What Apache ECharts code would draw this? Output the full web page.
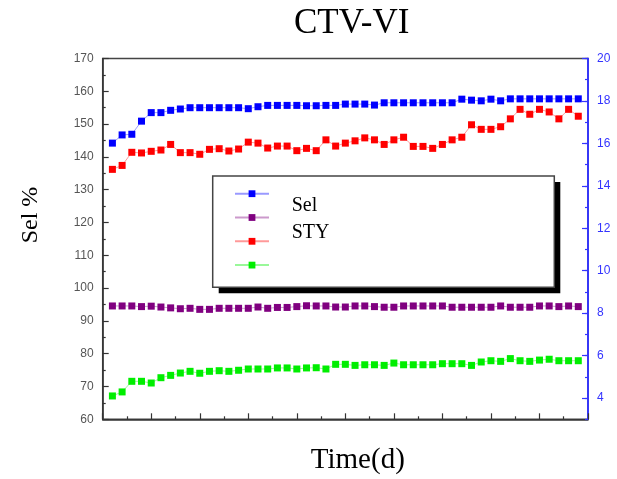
<!DOCTYPE html>
<html>
<head>
<meta charset="utf-8">
<script src="https://cdn.jsdelivr.net/npm/echarts@6/dist/echarts.min.js"></script>
<style>
  html, body { margin: 0; padding: 0; background: #fff; }
  #chart { width: 617px; height: 479px; }
</style>
</head>
<body>
<div id="chart"></div>
<script>
// ---- data ----
const timeDays = [0.2,0.4,0.6,0.8,1.0,1.2,1.4,1.6,1.8,2.0,2.2,2.4,2.6,2.8,3.0,3.2,3.4,3.6,3.8,4.0,
  4.2,4.4,4.6,4.8,5.0,5.2,5.4,5.6,5.8,6.0,6.2,6.4,6.6,6.8,7.0,7.2,7.4,7.6,7.8,8.0,
  8.2,8.4,8.6,8.8,9.0,9.2,9.4,9.6,9.8];
const blueSeries = [144.2,146.7,146.9,150.9,153.5,153.5,154.2,154.6,155.0,155.0,
  155.0,155.0,155.0,155.0,154.7,155.3,155.7,155.7,155.7,155.7,
  155.6,155.6,155.7,155.7,156.1,156.1,156.1,155.8,156.5,156.5,
  156.5,156.5,156.5,156.5,156.5,156.5,157.6,157.3,157.1,157.6,
  157.1,157.7,157.7,157.7,157.7,157.7,157.7,157.7,157.7];
const redSeries = [136.2,137.4,141.4,141.2,141.7,142.1,143.8,141.3,141.3,140.8,
  142.3,142.5,141.8,142.4,144.5,144.2,142.7,143.3,143.3,141.9,
  142.6,141.9,145.2,143.3,144.2,144.9,145.8,145.2,143.8,145.2,
  146.0,143.2,143.2,142.6,143.8,145.2,146.0,149.8,148.4,148.4,
  149.2,151.6,154.5,153.0,154.5,153.7,151.6,154.5,152.4];
const purpleSeries = [8.34,8.34,8.34,8.31,8.33,8.29,8.25,8.21,8.23,8.18,
  8.18,8.23,8.23,8.23,8.23,8.29,8.23,8.27,8.27,8.31,
  8.35,8.34,8.34,8.29,8.29,8.34,8.34,8.31,8.28,8.28,
  8.34,8.34,8.34,8.34,8.34,8.28,8.28,8.28,8.28,8.28,
  8.34,8.28,8.28,8.28,8.34,8.34,8.31,8.34,8.31];
const greenSeries = [4.10,4.29,4.79,4.79,4.71,4.96,5.07,5.18,5.26,5.17,
  5.26,5.29,5.26,5.31,5.37,5.37,5.37,5.42,5.42,5.37,
  5.42,5.43,5.37,5.59,5.59,5.54,5.57,5.57,5.54,5.65,
  5.57,5.57,5.57,5.57,5.62,5.62,5.62,5.54,5.70,5.76,
  5.73,5.86,5.76,5.73,5.79,5.83,5.76,5.76,5.76];
const rightMajorTicks = [4,6,8,10,12,14,16,18,20];
const legendLabels = ['Sel', 'STY'];
const titleText = 'CTV-VI';
const yName = 'Sel %';
const xName = 'Time(d)';

// ---- chart ----
const chart = echarts.init(document.getElementById('chart'), null, { renderer: 'canvas' });
const serif = 'Liberation Serif, Times New Roman, serif';
const sans = 'Liberation Sans, Arial, sans-serif';
const BLUE_AXIS = '#3434ff';

function pairs(ys) { return ys.map((v, i) => [timeDays[i], v]); }
function lineSeries(name, data, color, yAxisIndex) {
  return {
    name: name, type: 'line', yAxisIndex: yAxisIndex, data: pairs(data),
    symbol: 'rect', symbolSize: 7,
    itemStyle: { color: color },
    lineStyle: { color: color, width: 1, opacity: 0.4 },
    emphasis: { disabled: true },
    animation: false, z: 3
  };
}

const option = {
  animation: false,
  grid: { left: 102.7, right: 29, top: 58.5, bottom: 59.7, show: true,
          borderColor: '#444', borderWidth: 1.5, backgroundColor: 'transparent' },
  xAxis: {
    type: 'value', min: 0, max: 10, interval: 1,
    axisLine: { lineStyle: { color: '#333', width: 1.5 } },
    axisTick: { inside: true, length: 6, lineStyle: { color: '#333', width: 1.2 } },
    minorTick: { show: true, splitNumber: 2, length: 3, lineStyle: { color: '#333', width: 1.2 } },
    axisLabel: { show: false },
    splitLine: { show: false }, minorSplitLine: { show: false }
  },
  yAxis: [
    {
      type: 'value', position: 'left', min: 60, max: 170, interval: 10,
      axisLine: { show: true, lineStyle: { color: '#333', width: 1.5 } },
      axisTick: { show: true, inside: true, length: 6, lineStyle: { color: '#333', width: 1.2 } },
      minorTick: { show: true, splitNumber: 2, length: 3, lineStyle: { color: '#333', width: 1.2 } },
      axisLabel: { color: '#555', fontFamily: sans, fontSize: 12, margin: 9 },
      splitLine: { show: false }, minorSplitLine: { show: false }
    },
    {
      type: 'value', position: 'right', min: 3, max: 20, interval: 1,
      axisLine: { show: true, lineStyle: { color: BLUE_AXIS, width: 1.5 } },
      axisTick: { show: true, inside: true, length: 6, customValues: rightMajorTicks,
                  lineStyle: { color: BLUE_AXIS, width: 1.2 } },
      axisLabel: { color: BLUE_AXIS, fontFamily: sans, fontSize: 12, margin: 9,
                   customValues: rightMajorTicks },
      splitLine: { show: false }
    },
    {
      type: 'value', position: 'right', offset: 0, min: 3, max: 20, interval: 1,
      axisLine: { show: true, lineStyle: { color: BLUE_AXIS, width: 1.5 } },
      axisTick: { show: true, inside: true, length: 3,
                  lineStyle: { color: BLUE_AXIS, width: 1.2 } },
      axisLabel: { show: false },
      splitLine: { show: false }
    }
  ],
  legend: {
    orient: 'vertical', left: 229, top: 185.3, z: 20,
    itemWidth: 34, itemHeight: 8.5, itemGap: 17,
    selectedMode: false,
    formatter: function () { return ''; },
    textStyle: { fontSize: 8, lineHeight: 8.5 },
    data: ['Sel-a', 'STY-a', 'Sel-b', 'STY-b']
  },
  series: [
    lineSeries('Sel-a', blueSeries, '#0000ff', 0),
    lineSeries('STY-a', purpleSeries, '#800080', 2),
    lineSeries('Sel-b', redSeries, '#ff0000', 0),
    lineSeries('STY-b', greenSeries, '#00ee00', 2)
  ],
  graphic: [
    { type: 'text', x: 351.7, y: 24, z: 20,
      style: { text: titleText, font: '35px ' + serif, fill: '#000', align: 'center', verticalAlign: 'middle' } },
    { type: 'text', x: 30.5, y: 215, rotation: Math.PI / 2, z: 20,
      style: { text: yName, font: '24px ' + serif, fill: '#000', align: 'center', verticalAlign: 'middle' } },
    { type: 'text', x: 357.8, y: 460.5, z: 20,
      style: { text: xName, font: '29px ' + serif, fill: '#000', align: 'center', verticalAlign: 'middle' } },
    { type: 'rect', z: 14,
      shape: { x: 218.7, y: 182, width: 341.6, height: 111.3 },
      style: { fill: '#000', lineWidth: 0 } },
    { type: 'rect', z: 15,
      shape: { x: 212.7, y: 176, width: 341.6, height: 111.3 },
      style: { fill: '#fff', stroke: '#444', lineWidth: 1.5 } },
    { type: 'text', x: 291.7, y: 206, z: 21,
      style: { text: legendLabels[0], font: '20px ' + serif, fill: '#000', align: 'left', verticalAlign: 'middle' } },
    { type: 'text', x: 291.7, y: 232.3, z: 21,
      style: { text: legendLabels[1], font: '20px ' + serif, fill: '#000', align: 'left', verticalAlign: 'middle' } }
  ]
};
chart.setOption(option);
</script>
</body>
</html>
